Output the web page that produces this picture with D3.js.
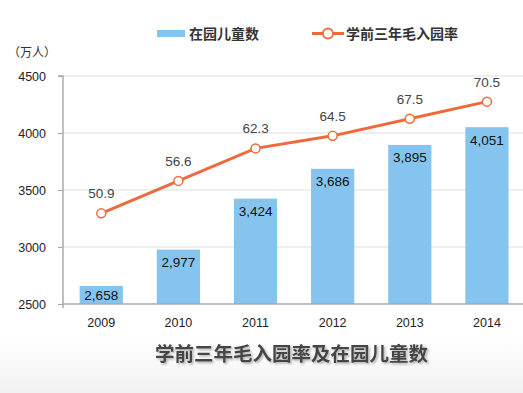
<!DOCTYPE html>
<html><head><meta charset="utf-8">
<script src="https://cdn.jsdelivr.net/npm/d3@7"></script>
<style>
html,body{margin:0;padding:0;background:#fff;}
svg{display:block;font-family:"Liberation Sans",Arial,"Noto Sans CJK SC",sans-serif;}
</style></head>
<body><svg id="c" width="523" height="393"></svg>
<script>
const years = ["2009","2010","2011","2012","2013","2014"];
const children = [2658, 2977, 3424, 3686, 3895, 4051];
const rate = [50.9, 56.6, 62.3, 64.5, 67.5, 70.5];
const leftTicks = [2500, 3000, 3500, 4000, 4500];
const seriesNames = ["在园儿童数", "学前三年毛入园率"];
const unitLabel = "（万人）";
const title = "学前三年毛入园率及在园儿童数";

const svg = d3.select("#c");
const cjk = '"Noto Sans CJK SC","Liberation Sans",sans-serif';

const defs = svg.append("defs");
const g1 = defs.append("linearGradient").attr("id","bg").attr("x1",0).attr("y1",0).attr("x2",0).attr("y2",1);
g1.append("stop").attr("offset","0%").attr("stop-color","#ffffff");
g1.append("stop").attr("offset","100%").attr("stop-color","#f2f2f2");
const sh = defs.append("filter").attr("id","sh").attr("x","-5%").attr("y","-30%").attr("width","110%").attr("height","160%");
sh.append("feDropShadow").attr("dx",1.5).attr("dy",1.5).attr("stdDeviation",1).attr("flood-color","#999").attr("flood-opacity",0.8);
svg.append("rect").attr("x",0).attr("y",335).attr("width",523).attr("height",58).attr("fill","url(#bg)");

const x = d3.scaleBand().domain(years).range([62.7, 525.5]).paddingInner(0.44).paddingOuter(0.22);
const yL = d3.scaleLinear().domain([2500, 4500]).range([304, 76]);
const yR = d3.scaleLinear().domain([35, 75]).range([304, 76]);

svg.append("g").selectAll("line").data(leftTicks.slice(1)).join("line")
  .attr("x1",63).attr("x2",523).attr("y1",d=>yL(d)).attr("y2",d=>yL(d))
  .attr("stroke","#dddddd").attr("stroke-width",1.2);

svg.append("g").selectAll("rect").data(children).join("rect")
  .attr("x",(d,i)=>x(years[i])).attr("width",x.bandwidth())
  .attr("y",d=>yL(d)).attr("height",d=>yL(2500)-yL(d))
  .attr("fill","#84c4ee");

const axL = svg.append("g").attr("transform","translate(63,0)")
  .call(d3.axisLeft(yL).tickValues(leftTicks).tickSize(5).tickPadding(12).tickFormat(d3.format("d")));
axL.select(".domain").attr("stroke","#aaaaaa").attr("stroke-width",1.5).attr("d","M-5,76H0V308");
axL.selectAll(".tick line").attr("stroke","#aaaaaa").attr("stroke-width",1.2);
axL.selectAll(".tick text").attr("fill","#222").attr("font-size",12.5)
  .attr("font-family","'Liberation Sans',Arial,sans-serif");

const axB = svg.append("g").attr("transform","translate(0,304)")
  .call(d3.axisBottom(x).tickSize(0).tickPadding(14));
axB.select(".domain").attr("stroke","#aaaaaa").attr("stroke-width",1.5).attr("d","M63,0H523");
axB.selectAll(".tick text").attr("fill","#222").attr("font-size",12.5)
  .attr("font-family","'Liberation Sans',Arial,sans-serif");

const fmt = d3.format(",");
svg.append("g").selectAll("text").data(children).join("text")
  .attr("x",(d,i)=>x(years[i])+x.bandwidth()/2)
  .attr("y",d=>Math.min(yL(d)+12.5,(yL(d)+304)/2)+5)
  .attr("text-anchor","middle").attr("font-size",13.5).attr("fill","#111")
  .text(d=>fmt(d));

const line = d3.line().x((d,i)=>x(years[i])+x.bandwidth()/2).y(d=>yR(d));
svg.append("path").datum(rate).attr("d",line).attr("fill","none")
  .attr("stroke","#ee6a3c").attr("stroke-width",3);
svg.append("g").selectAll("circle").data(rate).join("circle")
  .attr("cx",(d,i)=>x(years[i])+x.bandwidth()/2).attr("cy",d=>yR(d)).attr("r",4.5)
  .attr("fill","#fff").attr("stroke","#ee6a3c").attr("stroke-width",1.5);
svg.append("g").selectAll("text").data(rate).join("text")
  .attr("x",(d,i)=>x(years[i])+x.bandwidth()/2).attr("y",d=>yR(d)-15)
  .attr("text-anchor","middle").attr("font-size",13.5).attr("fill","#444")
  .text(d=>d3.format(".1f")(d));

svg.append("rect").attr("x",157).attr("y",30).attr("width",28).attr("height",7).attr("fill","#84c4ee");
svg.append("text").attr("x",189).attr("y",39).attr("font-size",14).attr("font-family",cjk)
  .attr("fill","#333").attr("font-weight","bold").text(seriesNames[0]);
svg.append("line").attr("x1",312).attr("x2",344).attr("y1",33.5).attr("y2",33.5)
  .attr("stroke","#ee6a3c").attr("stroke-width",3);
svg.append("circle").attr("cx",328).attr("cy",33.5).attr("r",5)
  .attr("fill","#fff").attr("stroke","#ee6a3c").attr("stroke-width",1.8);
svg.append("text").attr("x",346).attr("y",39).attr("font-size",14).attr("font-family",cjk)
  .attr("fill","#333").attr("font-weight","bold").text(seriesNames[1]);

svg.append("text").attr("x",8).attr("y",57).attr("font-size",12).attr("font-family",cjk)
  .attr("fill","#333").text(unitLabel);

svg.append("text").attr("x",155).attr("y",361).attr("font-size",19.5).attr("font-family",cjk)
  .attr("font-weight","bold").attr("fill","#444").attr("filter","url(#sh)").text(title);
</script></body></html>
